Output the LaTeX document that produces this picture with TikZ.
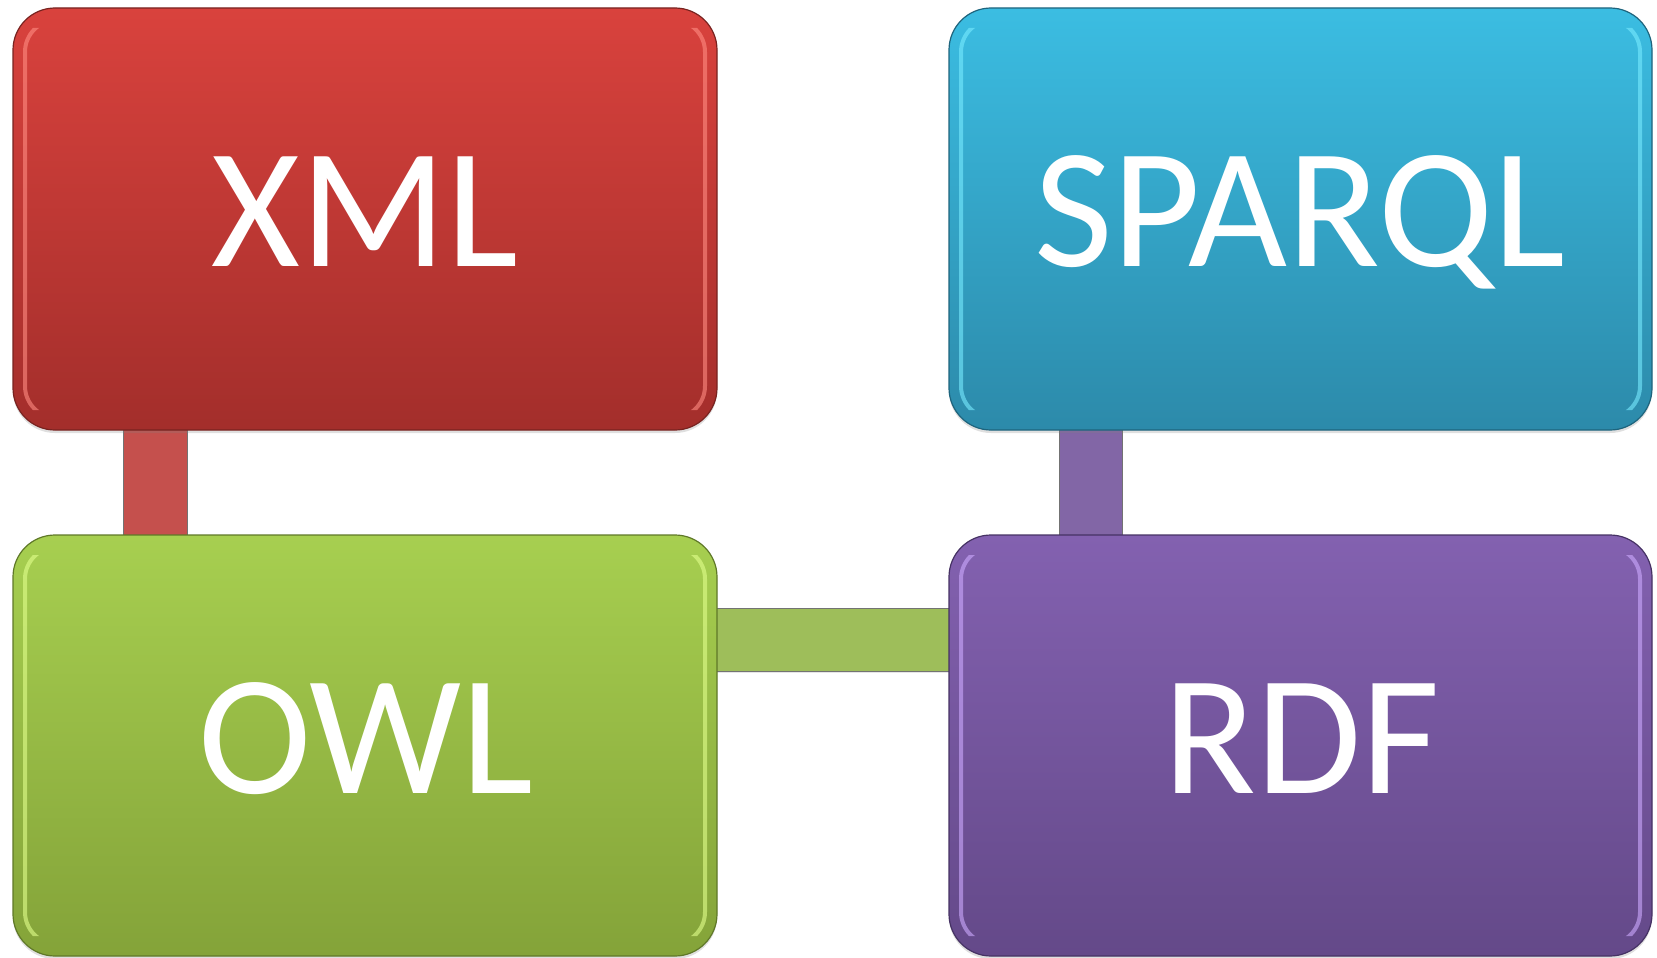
\documentclass[tikz,border=0pt]{standalone}
\usepackage{fontspec}
\setmainfont{Carlito}
\usetikzlibrary{shadows}
\definecolor{redT}{RGB}{217,66,61}
\definecolor{redB}{RGB}{163,46,43}
\definecolor{redE}{RGB}{120,35,32}
\definecolor{redH}{RGB}{255,140,130}
\definecolor{redC}{RGB}{197,80,77}
\definecolor{bluT}{RGB}{59,189,226}
\definecolor{bluB}{RGB}{44,138,170}
\definecolor{bluE}{RGB}{30,100,125}
\definecolor{bluH}{RGB}{120,235,255}
\definecolor{grnT}{RGB}{167,207,80}
\definecolor{grnB}{RGB}{132,163,57}
\definecolor{grnE}{RGB}{95,120,40}
\definecolor{grnH}{RGB}{225,255,140}
\definecolor{grnC}{RGB}{158,190,90}
\definecolor{vioT}{RGB}{131,97,176}
\definecolor{vioB}{RGB}{100,73,137}
\definecolor{vioE}{RGB}{70,50,100}
\definecolor{vioH}{RGB}{205,170,255}
\definecolor{vioC}{RGB}{130,102,166}
\tikzset{
  tile/.style n args={3}{draw=#3, line width=1.2pt, rounded corners=42pt,
    top color=#1, bottom color=#2,
    drop shadow={shadow xshift=0pt, shadow yshift=-3pt, opacity=0.25}},
  gloss/.style={draw=#1, line width=4pt, rounded corners=32pt, opacity=0.6},
  bar/.style={fill=#1, draw=black!55, line width=0.6pt,
    drop shadow={shadow xshift=0pt, shadow yshift=-2pt, opacity=0.2}},
  lbl/.style={text=white, anchor=base, font=\fontsize{171}{180}\selectfont, inner sep=0pt}
}
\newcommand{\glossbox}[5]{% x1 y1 x2 y2 colour
  \begin{scope}
    \clip (#1-5,#2+20) rectangle (#1+40,#4-20) (#3-40,#2+20) rectangle (#3+5,#4-20);
    \draw[gloss=#5] (#1+12,#2+12) rectangle (#3-12,#4-12);
  \end{scope}}
\begin{document}
\begin{tikzpicture}[x=1pt, y=-1pt]
\useasboundingbox (0,0) rectangle (1657,958);
% connectors
\path[bar=redC] (123,425) rectangle (187,540);
\path[bar=vioC] (1059,425) rectangle (1122,540);
\path[bar=grnC] (712,608) rectangle (954,671);
% tiles
\path[tile={redT}{redB}{redE}] (13,8) rectangle (717,430);
\glossbox{13}{8}{717}{430}{redH}
\path[tile={bluT}{bluB}{bluE}] (949,8) rectangle (1652,430);
\glossbox{949}{8}{1652}{430}{bluH}
\path[tile={grnT}{grnB}{grnE}] (13,535) rectangle (717,956);
\glossbox{13}{535}{717}{956}{grnH}
\path[tile={vioT}{vioB}{vioE}] (949,535) rectangle (1652,956);
\glossbox{949}{535}{1652}{956}{vioH}
% labels
\node[lbl] (xml) at (365,266) {XML};
\node[lbl] (sparql) at (1300,266) {SPARQL};
\node[lbl] (owl) at (366,793) {OWL};
\node[lbl] (rdf) at (1302,793) {RDF};
\end{tikzpicture}
\end{document}
